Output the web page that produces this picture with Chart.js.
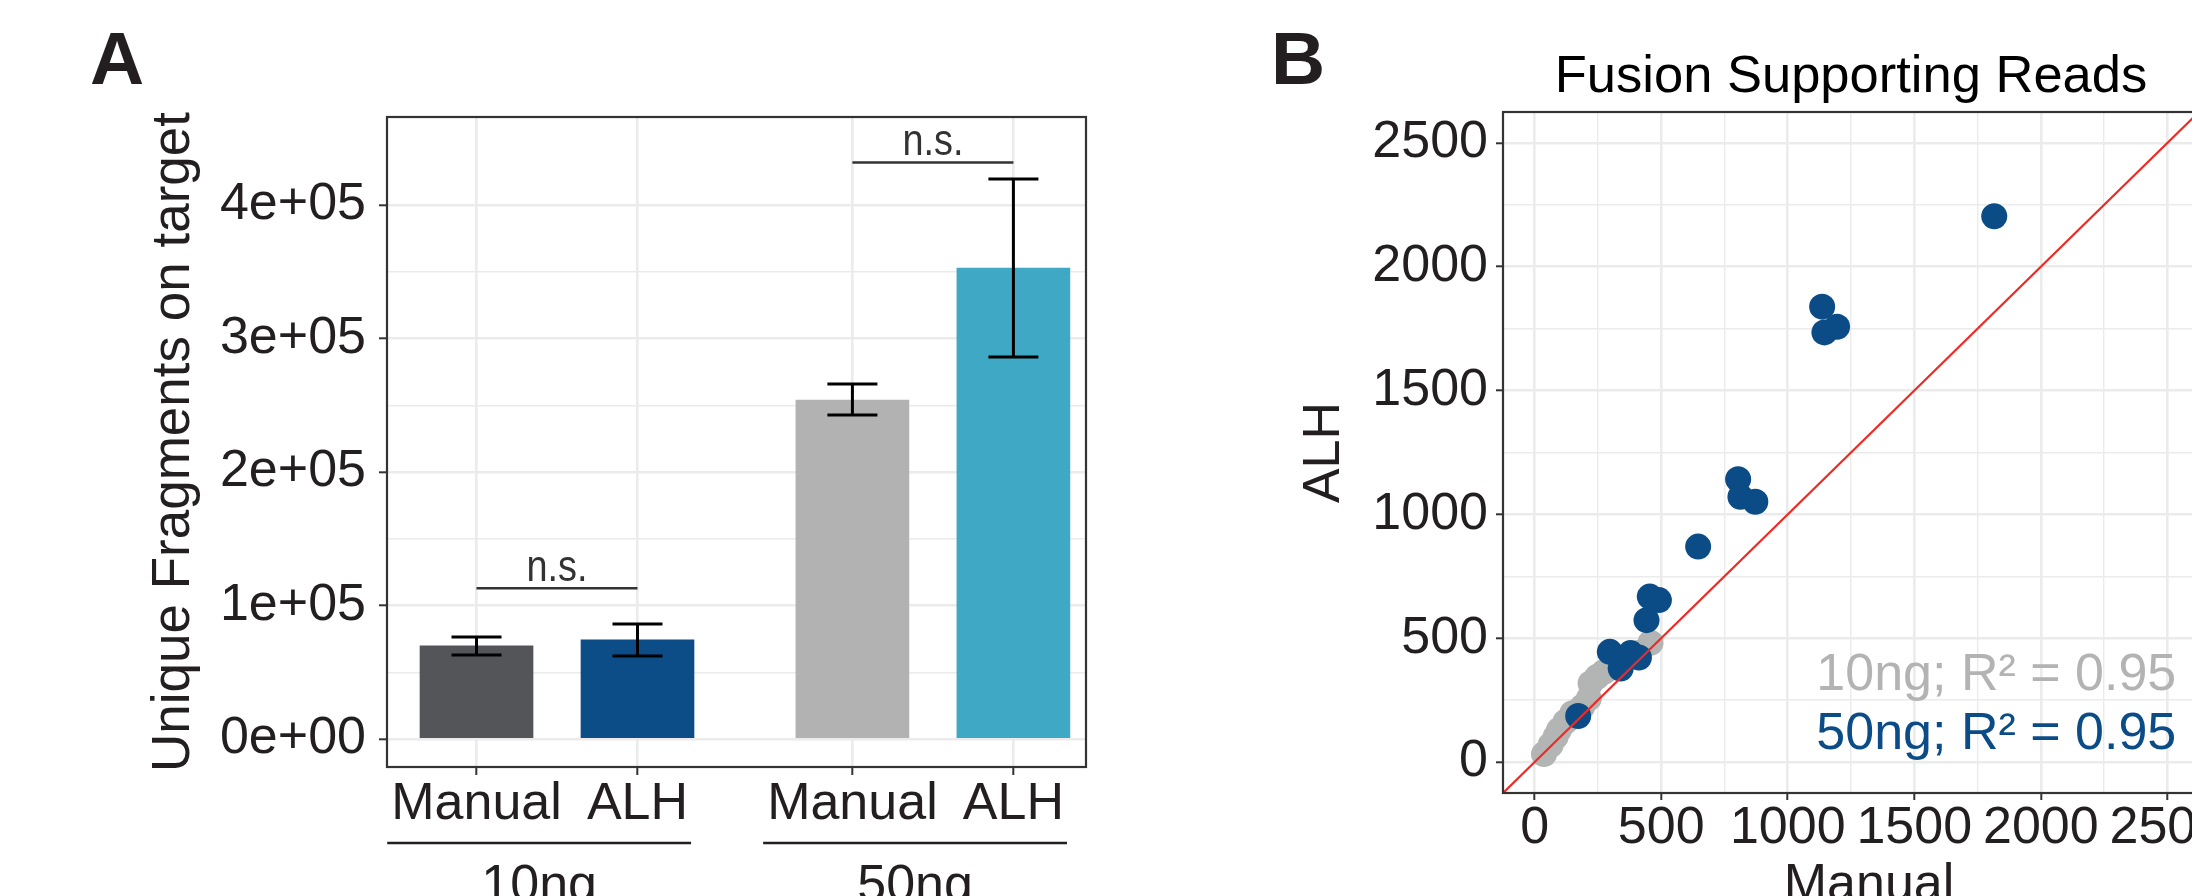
<!DOCTYPE html>
<html><head><meta charset="utf-8">
<script src="https://cdn.jsdelivr.net/npm/chart.js@4.4.1/dist/chart.umd.min.js"></script>
<style>
html,body{margin:0;padding:0;background:#fff;width:2192px;height:896px;overflow:hidden;position:relative}
canvas{position:absolute;top:0}
#cA{left:0}
#cB{left:1240px}
.tag{position:absolute;font:bold 75px 'Liberation Sans',Arial,sans-serif;color:#231f20;line-height:1}
#tA{left:90px;top:21px}
#tB{left:1271px;top:21px}
</style></head><body>
<div class="tag" id="tA">A</div><div class="tag" id="tB">B</div>
<canvas id="cA" width="1100" height="1000"></canvas>
<canvas id="cB" width="1223" height="1000"></canvas>
<script>
// ---------- Panel A data ----------
const categoriesA = ['Manual', 'ALH', 'Manual', 'ALH'];
const groupsA = ['10ng', '50ng'];
const fragMean = [69700, 74200, 253900, 352800];
const fragLow  = [62900, 62200, 242700, 286100];
const fragHigh = [76400, 86100, 265900, 419500];
const yTickLabelsA = ['0e+00', '1e+05', '2e+05', '3e+05', '4e+05'];
const sigLabels = ['n.s.', 'n.s.'];
const barColors = ['#545559', '#0c4c87', '#b1b2b1', '#3ea8c5'];

// ---------- Panel B data ----------
const manual10 = [37, 63, 83, 96, 122, 149, 188, 214, 221, 247, 274, 300, 360, 410, 458];
const alh10    = [32, 69, 102, 129, 163, 197, 223, 257, 318, 344, 364, 380, 420, 440, 482];
const manual50 = [172, 297, 340, 379, 412, 442, 455, 491, 646, 804, 813, 872, 1136, 1145, 1195, 1816];
const alh50    = [186, 445, 378, 440, 422, 573, 668, 654, 870, 1142, 1071, 1051, 1839, 1735, 1758, 2204];
const yTickLabelsB = ['0', '500', '1000', '1500', '2000', '2500'];
const xTickLabelsB = ['0', '500', '1000', '1500', '2000', '2500'];
const r2Labels = ['10ng; R\u00b2 = 0.95', '50ng; R\u00b2 = 0.95'];

// ---------- layout constants ----------
const FONT = "'Liberation Sans', Arial, Helvetica, sans-serif";
const TXT = '#231f20';
const GRID = '#ebebeb';
const xPosA = [1, 2, 3.335, 4.335];
const sigY = [113000, 432000];
const axisLimB = [-125, 2625];

Chart.defaults.font.family = FONT;
Chart.defaults.color = TXT;

function gridW(major){ return ctx => (ctx.tick && Math.abs(ctx.tick.value % major) < 1e-6) ? 2.6 : 1.4; }
function tickC(major){ return ctx => (ctx.tick && Math.abs(ctx.tick.value % major) < 1e-6) ? '#333' : 'rgba(0,0,0,0)'; }

const panelAPlugin = {
  id: 'panelA',
  afterDatasetsDraw(chart){
    const {ctx, scales:{x, y}} = chart;
    ctx.save();
    ctx.strokeStyle = '#000'; ctx.lineWidth = 3;
    xPosA.forEach((p, i) => {
      const cx = x.getPixelForValue(p), t = y.getPixelForValue(fragHigh[i]), b = y.getPixelForValue(fragLow[i]);
      ctx.beginPath();
      ctx.moveTo(cx, t); ctx.lineTo(cx, b);
      ctx.moveTo(cx - 25, t); ctx.lineTo(cx + 25, t);
      ctx.moveTo(cx - 25, b); ctx.lineTo(cx + 25, b);
      ctx.stroke();
    });
    ctx.strokeStyle = '#333'; ctx.lineWidth = 2.5; ctx.fillStyle = '#333';
    ctx.font = '44px ' + FONT; ctx.textAlign = 'center'; ctx.textBaseline = 'alphabetic';
    [[0,1],[2,3]].forEach((pr, k) => {
      const x1 = x.getPixelForValue(xPosA[pr[0]]), x2 = x.getPixelForValue(xPosA[pr[1]]);
      const yy = y.getPixelForValue(sigY[k]);
      ctx.beginPath(); ctx.moveTo(x1, yy); ctx.lineTo(x2, yy); ctx.stroke();
      ctx.save(); ctx.translate((x1 + x2) / 2, yy - 7); ctx.scale(0.86, 1);
      ctx.fillText(sigLabels[k], 0, 0); ctx.restore();
    });
    ctx.restore();
  },
  afterDraw(chart){
    const {ctx, chartArea:a, scales:{x}} = chart;
    ctx.save();
    ctx.strokeStyle = '#333'; ctx.lineWidth = 2.2;
    ctx.strokeRect(a.left, a.top, a.right - a.left, a.bottom - a.top);
    ctx.font = '52px ' + FONT;
    ctx.strokeStyle = TXT; ctx.fillStyle = TXT; ctx.lineWidth = 2.5;
    ctx.textAlign = 'center'; ctx.textBaseline = 'alphabetic';
    groupsA.forEach((g, k) => {
      const i0 = 2 * k, i1 = 2 * k + 1;
      const l = x.getPixelForValue(xPosA[i0]) - ctx.measureText(categoriesA[i0]).width / 2 - 4;
      const r = x.getPixelForValue(xPosA[i1]) + ctx.measureText(categoriesA[i1]).width / 2 + 3;
      const yl = a.bottom + 76;
      ctx.beginPath(); ctx.moveTo(l, yl); ctx.lineTo(r, yl); ctx.stroke();
      ctx.fillText(g, (l + r) / 2, a.bottom + 134);
    });
    ctx.restore();
  }
};

new Chart(document.getElementById('cA'), {
  type: 'bar',
  data: { datasets: [{
    data: xPosA.map((p, i) => ({x: p, y: fragMean[i]})),
    backgroundColor: barColors, borderWidth: 0, barThickness: 113
  }]},
  options: {
    responsive: false, animation: false, devicePixelRatio: 1, events: [],
    layout: { padding: {left: 0, top: 117, right: 14, bottom: 0} },
    plugins: { legend: {display: false}, tooltip: {enabled: false} },
    scales: {
      x: {
        type: 'linear', offset: false, min: 0.444, max: 4.786,
        afterBuildTicks: s => { s.ticks = xPosA.map(v => ({value: v})); },
        afterFit: s => { s.height = 233; },
        grid: { offset: false, color: GRID, lineWidth: 2.6, tickColor: '#333', tickWidth: 2, tickLength: 8 },
        border: { display: false },
        ticks: { autoSkip: false, maxRotation: 0, padding: 4, font: {size: 52, lineHeight: 1}, color: TXT,
          callback: (v, i) => categoriesA[i] }
      },
      y: {
        min: -21000, max: 466000,
        afterBuildTicks: s => { const t = []; for (let v = 0; v <= 400000; v += 50000) t.push({value: v}); s.ticks = t; },
        afterFit: s => { s.width = 387; },
        grid: { color: GRID, lineWidth: gridW(100000), tickColor: tickC(100000), tickWidth: 2, tickLength: 8 },
        border: { display: false },
        ticks: { autoSkip: false, padding: 13, font: {size: 52, lineHeight: 1}, color: TXT,
          callback: v => (v % 100000 === 0 ? yTickLabelsA[v / 100000] : '') },
        title: { display: true, text: 'Unique Fragments on target', font: {size: 53, lineHeight: 1}, color: TXT,
          padding: {top: 148, bottom: 0} }
      }
    }
  },
  plugins: [panelAPlugin]
});

// ---------- Panel B ----------
const panelBPlugin = {
  id: 'panelB',
  afterDraw(chart){
    const {ctx, chartArea:a, scales:{x, y}} = chart;
    ctx.save();
    ctx.strokeStyle = '#333'; ctx.lineWidth = 2.2;
    ctx.strokeRect(a.left, a.top, a.right - a.left, a.bottom - a.top);
    ctx.fillStyle = '#000'; ctx.font = '52.5px ' + FONT; ctx.textAlign = 'center'; ctx.textBaseline = 'alphabetic';
    ctx.fillText('Fusion Supporting Reads', (a.left + a.right) / 2, a.top - 20);
    ctx.font = '52px ' + FONT; ctx.fillStyle = TXT;
    ctx.fillText('Manual', (a.left + a.right) / 2 + 18, a.bottom + 107);
    ctx.textAlign = 'right';
    ctx.fillStyle = '#b3b3b3';
    ctx.fillText(r2Labels[0], x.getPixelForValue(2535), y.getPixelForValue(291));
    ctx.fillStyle = '#0b4c87';
    ctx.fillText(r2Labels[1], x.getPixelForValue(2535), y.getPixelForValue(52));
    ctx.restore();
  }
};

new Chart(document.getElementById('cB'), {
  type: 'scatter',
  data: { datasets: [
    { type: 'line', data: axisLimB.map(v => ({x: v, y: v})), borderColor: '#ee2a24', borderWidth: 2.2,
      pointRadius: 0, fill: false, order: 0 },
    { data: manual50.map((v, i) => ({x: v, y: alh50[i]})), backgroundColor: '#0b4c87', pointRadius: 13,
      borderWidth: 0, order: 1 },
    { data: manual10.map((v, i) => ({x: v, y: alh10[i]})), backgroundColor: '#b3b5b4', pointRadius: 13,
      borderWidth: 0, order: 2 }
  ]},
  options: {
    responsive: false, animation: false, devicePixelRatio: 1, events: [],
    layout: { padding: {left: 0, top: 112, right: 264, bottom: 0} },
    plugins: { legend: {display: false}, tooltip: {enabled: false} },
    scales: {
      x: {
        type: 'linear', min: axisLimB[0], max: axisLimB[1],
        afterBuildTicks: s => { const t = []; for (let v = 0; v <= 2500; v += 250) t.push({value: v}); s.ticks = t; },
        afterFit: s => { s.height = 207; },
        grid: { color: GRID, lineWidth: gridW(500), tickColor: tickC(500), tickWidth: 2, tickLength: 7 },
        border: { display: false },
        ticks: { autoSkip: false, maxRotation: 0, padding: 3, font: {size: 52, lineHeight: 1}, color: TXT,
          callback: v => (v % 500 === 0 ? xTickLabelsB[v / 500] : '') }
      },
      y: {
        type: 'linear', min: axisLimB[0], max: axisLimB[1],
        afterBuildTicks: s => { const t = []; for (let v = 0; v <= 2500; v += 250) t.push({value: v}); s.ticks = t; },
        afterFit: s => { s.width = 263; },
        grid: { color: GRID, lineWidth: gridW(500), tickColor: tickC(500), tickWidth: 2, tickLength: 7 },
        border: { display: false },
        ticks: { autoSkip: false, padding: 8, font: {size: 52, lineHeight: 1}, color: TXT,
          callback: v => (v % 500 === 0 ? yTickLabelsB[v / 500] : '') },
        title: { display: true, text: 'ALH', font: {size: 52, lineHeight: 1}, color: TXT, padding: {top: 59, bottom: 0} }
      }
    }
  },
  plugins: [panelBPlugin]
});
</script>
</body></html>
